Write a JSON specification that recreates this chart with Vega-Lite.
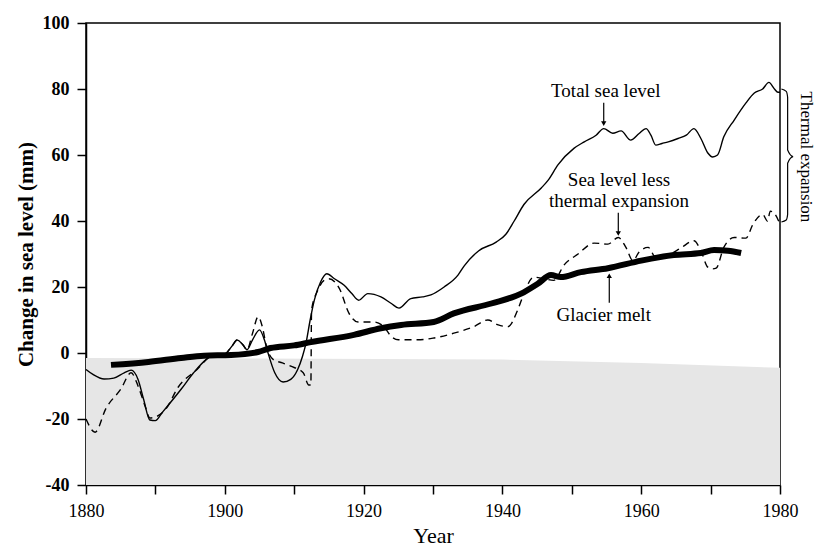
{
  "$schema": "https://vega.github.io/schema/vega-lite/v6.json",
  "width": 694,
  "height": 462,
  "autosize": {"type": "none"},
  "padding": {"left": 86, "top": 23, "right": 36, "bottom": 71},
  "background": "white",
  "config": {
    "font": "Liberation Serif",
    "view": {"stroke": "black", "strokeWidth": 1.5},
    "axis": {"domainColor": "black", "domainWidth": 1.5, "tickColor": "black", "tickWidth": 1.5, "labelColor": "black", "titleColor": "black", "grid": false, "labelFont": "Liberation Serif", "titleFont": "Liberation Serif"}
  },
  "datasets": {
    "stipple": [
      {"year": 1880, "top": -1.5},
      {"year": 1940, "top": -2},
      {"year": 1960, "top": -3},
      {"year": 1980, "top": -4.5}
    ],
    "total": [
      {"year": 1880, "value": -5}, {"year": 1881, "value": -6.5}, {"year": 1882.6, "value": -7.9}, {"year": 1884, "value": -7.6},
      {"year": 1885.5, "value": -6}, {"year": 1886.5, "value": -5.2}, {"year": 1887.5, "value": -8}, {"year": 1888.3, "value": -14},
      {"year": 1889.2, "value": -20.3}, {"year": 1890, "value": -20.5}, {"year": 1891, "value": -18}, {"year": 1893.7, "value": -11},
      {"year": 1895.5, "value": -6}, {"year": 1897.3, "value": -2}, {"year": 1898.5, "value": -0.5}, {"year": 1900, "value": -0.3},
      {"year": 1901, "value": 2}, {"year": 1901.8, "value": 3.9}, {"year": 1902.6, "value": 2.5}, {"year": 1903.2, "value": 1},
      {"year": 1904, "value": 4}, {"year": 1905, "value": 7}, {"year": 1905.7, "value": 4}, {"year": 1906.3, "value": -0.5},
      {"year": 1907.2, "value": -6}, {"year": 1908.4, "value": -8.8}, {"year": 1909.5, "value": -8}, {"year": 1910.5, "value": -5},
      {"year": 1911.2, "value": -1}, {"year": 1911.7, "value": 3}, {"year": 1912.3, "value": 10}, {"year": 1912.9, "value": 16},
      {"year": 1913.8, "value": 21.5}, {"year": 1914.7, "value": 24}, {"year": 1915.8, "value": 22.5}, {"year": 1917.2, "value": 20.5},
      {"year": 1918.3, "value": 18}, {"year": 1919.3, "value": 16}, {"year": 1920.6, "value": 18}, {"year": 1922.5, "value": 17},
      {"year": 1924, "value": 15}, {"year": 1925.1, "value": 13.6}, {"year": 1926.8, "value": 16.5}, {"year": 1928.5, "value": 17},
      {"year": 1929.7, "value": 17.6}, {"year": 1931.6, "value": 20}, {"year": 1933.6, "value": 23.6}, {"year": 1934.5, "value": 26.4},
      {"year": 1936.6, "value": 31}, {"year": 1939.1, "value": 33.6}, {"year": 1940.5, "value": 36}, {"year": 1941.7, "value": 40},
      {"year": 1943.1, "value": 45}, {"year": 1945.6, "value": 50}, {"year": 1946.6, "value": 52.4}, {"year": 1948, "value": 57},
      {"year": 1950.3, "value": 62}, {"year": 1951.8, "value": 64}, {"year": 1953.5, "value": 66}, {"year": 1954.6, "value": 68},
      {"year": 1955.9, "value": 66.6}, {"year": 1957.1, "value": 67.3}, {"year": 1958.5, "value": 64.5}, {"year": 1959.7, "value": 66.5},
      {"year": 1960.7, "value": 68}, {"year": 1961.4, "value": 66}, {"year": 1962.1, "value": 63}, {"year": 1963, "value": 63.5},
      {"year": 1963.9, "value": 64}, {"year": 1965.3, "value": 65}, {"year": 1966.5, "value": 66}, {"year": 1967.6, "value": 68},
      {"year": 1968.6, "value": 65}, {"year": 1969.6, "value": 60.6}, {"year": 1970.3, "value": 59.4}, {"year": 1971, "value": 60},
      {"year": 1971.9, "value": 65.5}, {"year": 1973.4, "value": 70.6}, {"year": 1975.1, "value": 75.8}, {"year": 1976.3, "value": 78.8},
      {"year": 1977.5, "value": 80}, {"year": 1978.4, "value": 82}, {"year": 1979.2, "value": 80}, {"year": 1979.7, "value": 79},
      {"year": 1980, "value": 79}
    ],
    "less": [
      {"year": 1880, "value": -20}, {"year": 1881.3, "value": -24}, {"year": 1882.9, "value": -16.7}, {"year": 1885, "value": -11},
      {"year": 1886.5, "value": -6}, {"year": 1887.5, "value": -10}, {"year": 1888.5, "value": -16}, {"year": 1889.2, "value": -19.7},
      {"year": 1890.4, "value": -19}, {"year": 1891.5, "value": -17}, {"year": 1893.3, "value": -10.3}, {"year": 1896, "value": -5},
      {"year": 1898, "value": -1}, {"year": 1900, "value": -0.3}, {"year": 1901, "value": 2}, {"year": 1901.8, "value": 4},
      {"year": 1902.6, "value": 2.5}, {"year": 1903.2, "value": 1}, {"year": 1904, "value": 6}, {"year": 1904.8, "value": 11},
      {"year": 1905.4, "value": 8}, {"year": 1906, "value": 2}, {"year": 1907, "value": -2}, {"year": 1908.3, "value": -3},
      {"year": 1909.5, "value": -4}, {"year": 1911.3, "value": -6}, {"year": 1912.1, "value": -9.7}, {"year": 1912.4, "value": -9.7},
      {"year": 1912.5, "value": 13}, {"year": 1913.4, "value": 19}, {"year": 1914.3, "value": 22}, {"year": 1915, "value": 22.5},
      {"year": 1916.5, "value": 19.6}, {"year": 1917.9, "value": 12}, {"year": 1919.2, "value": 9.4}, {"year": 1921.5, "value": 9.4},
      {"year": 1922.9, "value": 8}, {"year": 1924, "value": 5}, {"year": 1925, "value": 4}, {"year": 1927.8, "value": 4},
      {"year": 1930, "value": 4.5}, {"year": 1933, "value": 6}, {"year": 1935.9, "value": 8}, {"year": 1937.9, "value": 10},
      {"year": 1939.4, "value": 8.5}, {"year": 1940.8, "value": 8}, {"year": 1942.2, "value": 13}, {"year": 1943.1, "value": 18},
      {"year": 1944.5, "value": 23}, {"year": 1946, "value": 22.5}, {"year": 1947.4, "value": 22}, {"year": 1948.9, "value": 26.7},
      {"year": 1950.9, "value": 30}, {"year": 1953.2, "value": 33.3}, {"year": 1955.2, "value": 33}, {"year": 1956.7, "value": 35},
      {"year": 1957.8, "value": 32}, {"year": 1958.8, "value": 28}, {"year": 1959.7, "value": 30.6}, {"year": 1961, "value": 32},
      {"year": 1962.1, "value": 29}, {"year": 1963.9, "value": 29.7}, {"year": 1965.7, "value": 31.8}, {"year": 1967.6, "value": 34},
      {"year": 1968.6, "value": 31}, {"year": 1969.6, "value": 26}, {"year": 1970.3, "value": 25.5}, {"year": 1970.8, "value": 25.7},
      {"year": 1971.9, "value": 32}, {"year": 1973.4, "value": 35}, {"year": 1975.1, "value": 34.8}, {"year": 1976.1, "value": 39},
      {"year": 1977.5, "value": 42}, {"year": 1978.2, "value": 40}, {"year": 1978.6, "value": 43}, {"year": 1979.3, "value": 42},
      {"year": 1980, "value": 39}
    ],
    "glacier": [
      {"year": 1883.6, "value": -3.6}, {"year": 1889, "value": -2.7}, {"year": 1893.7, "value": -1.5}, {"year": 1897, "value": -0.8},
      {"year": 1900.9, "value": -0.6}, {"year": 1904.8, "value": 0.3}, {"year": 1906.6, "value": 1.5}, {"year": 1910, "value": 2.3},
      {"year": 1912.4, "value": 3.3}, {"year": 1918.6, "value": 5.5}, {"year": 1922.5, "value": 7.5}, {"year": 1925.4, "value": 8.5},
      {"year": 1930.1, "value": 9.4}, {"year": 1933, "value": 12}, {"year": 1938.4, "value": 15}, {"year": 1942.7, "value": 18},
      {"year": 1945.1, "value": 21}, {"year": 1947, "value": 23.6}, {"year": 1948.4, "value": 23}, {"year": 1951.3, "value": 24.5},
      {"year": 1955.2, "value": 25.7}, {"year": 1960, "value": 28}, {"year": 1964.7, "value": 29.7}, {"year": 1968.6, "value": 30.3},
      {"year": 1970.5, "value": 31.2}, {"year": 1972.5, "value": 31}, {"year": 1974.4, "value": 30.3}
    ],
    "brace": [
      {"year": 1980.2, "value": 80, "order": 1}, {"year": 1980.9, "value": 79.3, "order": 2}, {"year": 1981.1, "value": 77.5, "order": 3},
      {"year": 1981.1, "value": 61.5, "order": 4}, {"year": 1981.9, "value": 59.5, "order": 5}, {"year": 1981.1, "value": 57.5, "order": 6},
      {"year": 1981.1, "value": 42, "order": 7}, {"year": 1980.9, "value": 40.3, "order": 8}, {"year": 1980.2, "value": 39.7, "order": 9}
    ],
    "labels": [
      {"text": "Total sea level", "year": 1954.9, "value": 79.4},
      {"text": "Sea level less", "year": 1956.8, "value": 52.4},
      {"text": "thermal expansion", "year": 1956.8, "value": 46},
      {"text": "Glacier melt", "year": 1954.6, "value": 11.5}
    ],
    "arrows": [
      {"year": 1954.6, "from": 75.8, "to": 69.5},
      {"year": 1956.7, "from": 42.5, "to": 36.2},
      {"year": 1955.4, "from": 15.2, "to": 23.4}
    ],
    "side": [
      {"text": "Thermal expansion", "year": 1983.7, "value": 59.4}
    ]
  },
  "layer": [
    {
      "data": {"name": "stipple"},
      "mark": {"type": "area", "color": "#e6e6e6", "opacity": 1},
      "encoding": {
        "x": {"field": "year", "type": "quantitative", "scale": {"domain": [1880, 1980], "nice": false, "zero": false},
          "axis": {"values": [1880, 1890, 1900, 1910, 1920, 1930, 1940, 1950, 1960, 1970, 1980], "format": "d",
            "labelExpr": "datum.value % 20 == 0 ? datum.label : ''", "tickSize": 9, "labelPadding": 8, "labelFontSize": 18,
            "labelFlush": false, "labelOverlap": false, "title": "Year", "titleFontSize": 22, "titleFontWeight": "normal", "titlePadding": 5}},
        "y": {"field": "top", "type": "quantitative", "scale": {"domain": [-40, 100], "nice": false, "zero": false},
          "axis": {"values": [-40, -20, 0, 20, 40, 60, 80, 100], "labelExpr": "'' + datum.value", "tickSize": 9, "labelPadding": 8, "labelFontSize": 18, "labelFontWeight": "bold",
            "labelFlush": false, "title": "Change in sea level (mm)", "titleFontSize": 21, "titleFontWeight": "bold", "titlePadding": 6}},
        "y2": {"datum": -40}
      }
    },
    {
      "data": {"name": "total"},
      "mark": {"type": "line", "color": "black", "strokeWidth": 1.4, "interpolate": "monotone"},
      "encoding": {
        "x": {"field": "year", "type": "quantitative"},
        "y": {"field": "value", "type": "quantitative"}
      }
    },
    {
      "data": {"name": "less"},
      "mark": {"type": "line", "color": "black", "strokeWidth": 1.4, "strokeDash": [7, 5], "interpolate": "monotone"},
      "encoding": {
        "x": {"field": "year", "type": "quantitative"},
        "y": {"field": "value", "type": "quantitative"}
      }
    },
    {
      "data": {"name": "glacier"},
      "mark": {"type": "line", "color": "black", "strokeWidth": 6, "interpolate": "monotone"},
      "encoding": {
        "x": {"field": "year", "type": "quantitative"},
        "y": {"field": "value", "type": "quantitative"}
      }
    },
    {
      "data": {"name": "brace"},
      "mark": {"type": "line", "color": "black", "strokeWidth": 1.2, "interpolate": "monotone"},
      "encoding": {
        "x": {"field": "year", "type": "quantitative"},
        "y": {"field": "value", "type": "quantitative"},
        "order": {"field": "order", "type": "quantitative"}
      }
    },
    {
      "data": {"name": "labels"},
      "mark": {"type": "text", "font": "Liberation Serif", "fontSize": 19, "color": "black", "align": "center", "baseline": "middle"},
      "encoding": {
        "x": {"field": "year", "type": "quantitative"},
        "y": {"field": "value", "type": "quantitative"},
        "text": {"field": "text"}
      }
    },
    {
      "data": {"name": "side"},
      "mark": {"type": "text", "font": "Liberation Serif", "fontSize": 17, "color": "black", "align": "center", "baseline": "middle", "angle": 90},
      "encoding": {
        "x": {"field": "year", "type": "quantitative"},
        "y": {"field": "value", "type": "quantitative"},
        "text": {"field": "text"}
      }
    },
    {
      "data": {"name": "arrows"},
      "mark": {"type": "rule", "color": "black", "strokeWidth": 1.2},
      "encoding": {
        "x": {"field": "year", "type": "quantitative"},
        "y": {"field": "from", "type": "quantitative"},
        "y2": {"field": "to"}
      }
    },
    {
      "data": {"name": "arrows"},
      "transform": [{"filter": "datum.to < datum.from"}],
      "mark": {"type": "point", "shape": "triangle-down", "filled": true, "color": "black", "size": 28, "opacity": 1},
      "encoding": {
        "x": {"field": "year", "type": "quantitative"},
        "y": {"field": "to", "type": "quantitative"}
      }
    },
    {
      "data": {"name": "arrows"},
      "transform": [{"filter": "datum.to > datum.from"}],
      "mark": {"type": "point", "shape": "triangle-up", "filled": true, "color": "black", "size": 28, "opacity": 1},
      "encoding": {
        "x": {"field": "year", "type": "quantitative"},
        "y": {"field": "to", "type": "quantitative"}
      }
    }
  ]
}
